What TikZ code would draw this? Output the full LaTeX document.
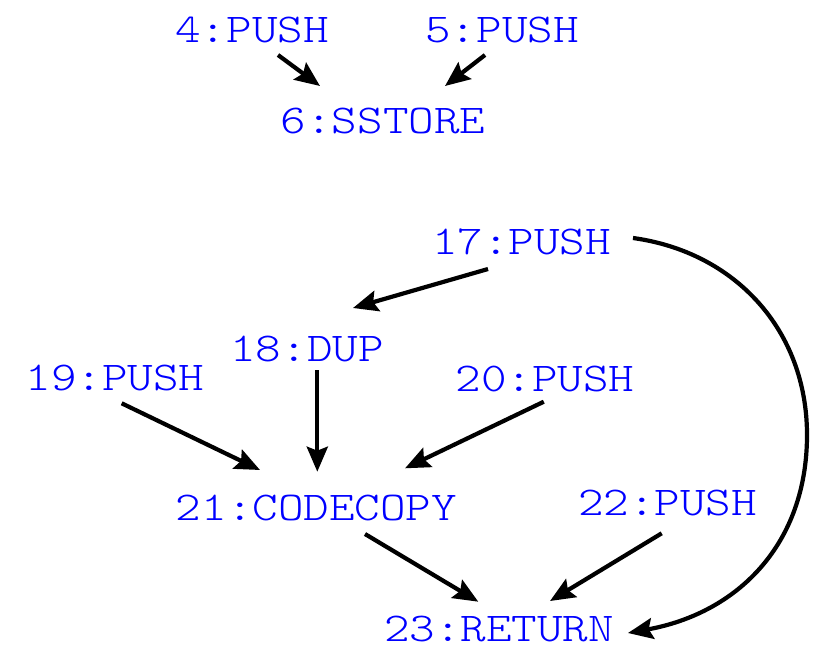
\documentclass[tikz,border=0pt]{standalone}
\usepackage{fontspec}
\newfontfamily\courfont[FakeStretch=1.19]{lmmonolt10-regular.otf}
\usetikzlibrary{arrows.meta,calc}
\begin{document}
\begin{tikzpicture}[x=1pt,y=-1pt,
  op/.style={text={rgb,255:red,0;green,0;blue,255}, font=\courfont\fontsize{40.9}{48}\selectfont, anchor=base, inner sep=0pt},
  edge/.style={-{Stealth[length=25pt,width=21pt,inset=4pt]}, line width=4.2pt, black}]
\useasboundingbox (0,0) rectangle (818,645);
% nodes
\node[op] (n4) at (252,42) {4:PUSH};
\node[op] (n5) at (502,42) {5:PUSH};
\node[op] (n6) at (383,133) {6:SSTORE};
\node[op] (n17) at (521.5,254) {17:PUSH};
\node[op] (n18) at (307,361) {18:DUP};
\node[op] (n19) at (115,390) {19:PUSH};
\node[op] (n20) at (545,391) {20:PUSH};
\node[op] (n21) at (316.5,520) {21:CODECOPY};
\node[op] (n22) at (667.5,515) {22:PUSH};
\node[op] (n23) at (499,641) {23:RETURN};
% edges
\draw[edge] ($(n4.base)+(26,13)$) -- ($(n6.base)+(-63,-47)$);
\draw[edge] ($(n5.base)+(-17,13)$) -- ($(n6.base)+(62,-47)$);
\draw[edge] ($(n17.base)+(-33.5,15)$) -- ($(n18.base)+(46,-53)$);
\draw[edge] ($(n18.base)+(10.3,9)$) -- ($(n21.base)+(0.8,-48.3)$);
\draw[edge] ($(n19.base)+(6.7,13.3)$) -- ($(n21.base)+(-56.5,-50)$);
\draw[edge] ($(n20.base)+(-1.2,10.7)$) -- ($(n21.base)+(88.5,-51.7)$);
\draw[edge] ($(n21.base)+(48.5,14)$) -- ($(n23.base)+(-20.7,-39.3)$);
\draw[edge] ($(n22.base)+(-5.8,18.3)$) -- ($(n23.base)+(51,-40)$);
\draw[edge] ($(n17.base)+(111.5,-16)$) .. controls (735,252) and (807,330) .. (807,435)
  .. controls (807,544) and (738,613) .. ($(n23.base)+(129,-8)$);
\end{tikzpicture}
\end{document}
